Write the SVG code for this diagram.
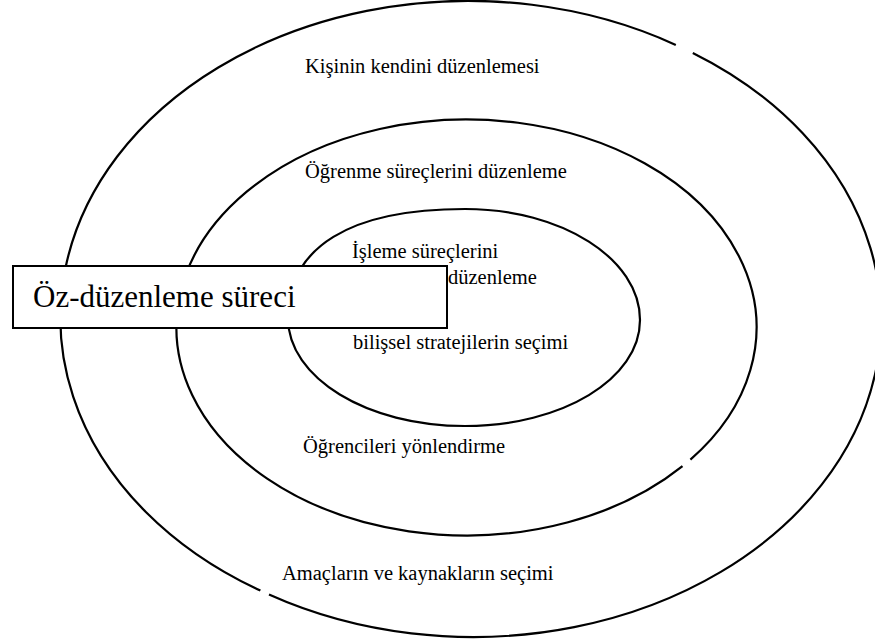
<svg xmlns="http://www.w3.org/2000/svg" width="875" height="641" viewBox="0 0 875 641">
<style>
.ring{fill:none;stroke:#000;stroke-width:2.2}
.lbl{font-family:"Liberation Serif","Times New Roman",serif;font-size:20.5px;fill:#000}
.box{fill:#fff;stroke:#000;stroke-width:2}
.title{font-family:"Liberation Serif","Times New Roman",serif;font-size:31px;fill:#000}
</style>
<rect width="875" height="641" fill="#fff"/>
<g id="connectors"></g>
<g id="outer">
<path class="ring" d="M 692.8 52.9 A 408 317 0 0 1 269 594.5 M 260.4 590.6 A 408 317 0 0 1 675.8 44.9"/>
<text class="lbl" x="305" y="73">Kişinin kendini düzenlemesi</text>
<text class="lbl" x="282" y="580">Amaçların ve kaynakların seçimi</text>
</g>
<g id="middle">
<path class="ring" d="M 682.5 466.2 A 290 208 0 1 1 690.4 459.6"/>
<text class="lbl" x="305" y="178">Öğrenme süreçlerini düzenleme</text>
<text class="lbl" x="303" y="453">Öğrencileri yönlendirme</text>
</g>
<g id="inner">
<path class="ring" d="M 288 318 C 288 247 350 209 465 209 C 562 209 640 259 640 320 C 640 379 562 426 465 426 C 367 426 288 378 288 318 Z"/>
<text class="lbl" x="352" y="258">İşleme süreçlerini</text>
<text class="lbl" x="448" y="284">düzenleme</text>
<text class="lbl" x="353" y="349">bilişsel stratejilerin seçimi</text>
</g>
<g id="label-box">
<rect class="box" x="13" y="266" width="434" height="62"/>
<text class="title" x="33" y="307">Öz-düzenleme süreci</text>
</g>
</svg>
